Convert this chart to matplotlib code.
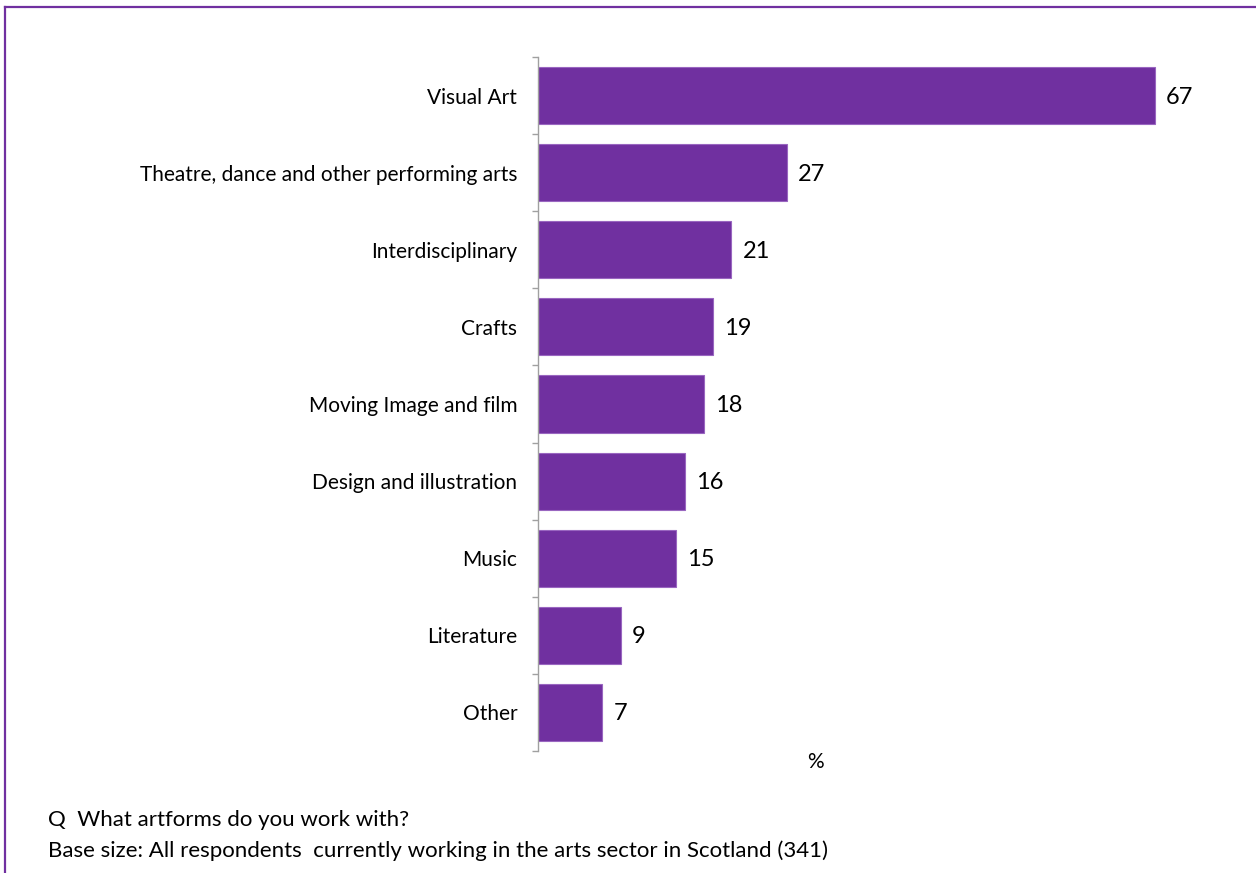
import matplotlib
matplotlib.use("Agg")
import matplotlib.pyplot as plt
from matplotlib.lines import Line2D

categories = ["Visual Art", "Theatre, dance and other performing arts", "Interdisciplinary",
              "Crafts", "Moving Image and film", "Design and illustration", "Music",
              "Literature", "Other"]
values = [67, 27, 21, 19, 18, 16, 15, 9, 7]

question = "Q  What artforms do you work with?"
base_note = "Base size: All respondents  currently working in the arts sector in Scotland (341)"

plt.rcParams["font.family"] = ["Lato", "DejaVu Sans"]

W, H = 1256, 873
fig = plt.figure(figsize=(W / 100, H / 100), dpi=100)

purple = "#7030A0"

# plot area in pixel terms -> figure fractions
left_px, right_px, top_px, bottom_px = 538, 1201, 57, 751
ax = fig.add_axes([left_px / W, 1 - bottom_px / H, (right_px - left_px) / W, (bottom_px - top_px) / H])

n = len(categories)
ypos = list(range(n))
ax.barh(ypos, values, height=0.74, color=purple, edgecolor="#9966C0", linewidth=0.8)
ax.set_ylim(n - 0.5, -0.5)
ax.set_xlim(0, 72)

for y, v in zip(ypos, values):
    ax.text(v + 1.2, y + 0.02, f"{v}", va="center", ha="left", fontsize=17, color="#000000")

ax.set_yticks(ypos)
ax.set_yticklabels(categories, fontsize=15)
ax.tick_params(axis="y", which="major", length=0, pad=15)
ax.set_yticks([i - 0.5 for i in range(n + 1)], minor=True)
ax.tick_params(axis="y", which="minor", length=4.5, color="#A0A0A0", width=1)
ax.set_xticks([])

for s in ["top", "right", "bottom"]:
    ax.spines[s].set_visible(False)
ax.spines["left"].set_color("#A0A0A0")
ax.spines["left"].set_linewidth(1)

fig.text(815 / W, 1 - 762 / H, "%", ha="center", va="center", fontsize=15)
fig.text(48 / W, 1 - 820 / H, question, ha="left", va="center", fontsize=16)
fig.text(48 / W, 1 - 851 / H, base_note, ha="left", va="center", fontsize=16)

# outer frame
fig.add_artist(Line2D([5 / W, 5 / W], [0, 1 - 7 / H], color=purple, linewidth=1.6, transform=fig.transFigure))
fig.add_artist(Line2D([5 / W, 1], [1 - 7 / H, 1 - 7 / H], color=purple, linewidth=1.6, transform=fig.transFigure))

fig.savefig("out.png", dpi=100, facecolor="white")
